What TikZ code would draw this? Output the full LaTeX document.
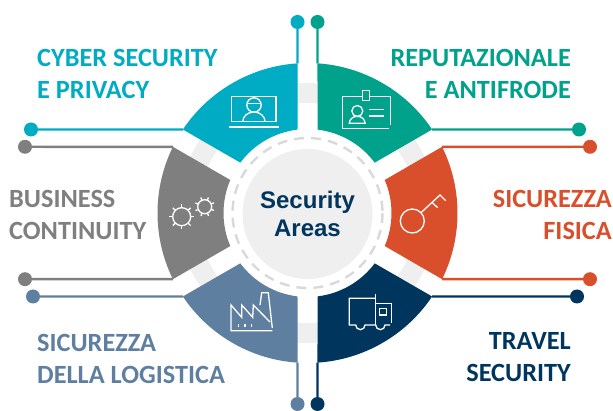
\documentclass[tikz,border=0pt]{standalone}
\usepackage{fontspec}
\setmainfont{Carlito}
\newfontfamily\centerfont{Liberation Sans}
\usepackage{xcolor}
\definecolor{cybercol}{HTML}{00ACC4}
\definecolor{repucol}{HTML}{00A28C}
\definecolor{fisicacol}{HTML}{D94F2B}
\definecolor{travelcol}{HTML}{00365E}
\definecolor{logicol}{HTML}{5F7FA0}
\definecolor{busicol}{HTML}{7F7F7F}
\definecolor{ringcol}{HTML}{EFEFEF}
\definecolor{dashcol}{HTML}{D9D9D9}
\begin{document}
\begin{tikzpicture}[x=1pt, y=1pt, yscale=-1, icon/.style={draw=white, line width=1.3pt}, leader/.style={line width=2.4pt}]
    % Define styles for dots and labels
    \tikzstyle{dot} = [circle, inner sep=0pt, minimum size=14pt]
    \tikzstyle{leftlabel} = [align=left, anchor=west, font=\fontsize{26.3}{32}\selectfont\bfseries, inner sep=0pt]
    \tikzstyle{rightlabel} = [align=right, anchor=east, font=\fontsize{26.3}{32}\selectfont\bfseries, inner sep=0pt]
    \useasboundingbox (0,0) rectangle (613,411);

    % Ring and sectors
    \begin{scope}[shift={(307.5,213)}]
        \draw[ringcol, line width=20pt] (0,0) circle (120);
        \fill[cybercol] (213.82:150) coordinate (cyberleft) arc[start angle=213.82, end angle=266.18, radius=150] coordinate (cybertop) -- (263.16:84) arc[start angle=263.16, end angle=216.84, radius=84] -- cycle;
        \fill[repucol] (273.82:150) coordinate (repubtop) arc[start angle=273.82, end angle=326.18, radius=150] coordinate (repuright) -- (323.16:84) arc[start angle=323.16, end angle=276.84, radius=84] -- cycle;
        \fill[fisicacol] (-26.18:150) coordinate (fisicaup) arc[start angle=-26.18, end angle=26.18, radius=150] coordinate (fisicadown) -- (23.16:84) arc[start angle=23.16, end angle=-23.16, radius=84] -- cycle;
        \fill[travelcol] (33.82:150) coordinate (travelright) arc[start angle=33.82, end angle=86.18, radius=150] coordinate (travelbottom) -- (83.16:84) arc[start angle=83.16, end angle=36.84, radius=84] -- cycle;
        \fill[logicol] (93.82:150) coordinate (logibottom) arc[start angle=93.82, end angle=146.18, radius=150] coordinate (logileft) -- (143.16:84) arc[start angle=143.16, end angle=96.84, radius=84] -- cycle;
        \fill[busicol] (153.82:150) coordinate (busidown) arc[start angle=153.82, end angle=206.18, radius=150] coordinate (busiup) -- (203.16:84) arc[start angle=203.16, end angle=156.84, radius=84] -- cycle;
        \draw[dashcol, line width=2.4pt, dash pattern=on 10pt off 7pt] (0,0) circle (75);
    \end{scope}

    % Center
    \node[circle, fill=ringcol, minimum size=130pt, inner sep=0pt, align=center, text=travelcol, font=\centerfont\fontsize{24}{28}\selectfont\bfseries] (center) at (307.5,214) {Security\\Areas};

    % Nodes placement
    \node[dot, fill=cybercol] (cybertopdot) at (297.5,22) {};
    \node[dot, fill=cybercol] (cyberleftdot) at (31,129.5) {};
    \node[dot, fill=repucol] (reputopdot) at (317.5,22) {};
    \node[dot, fill=repucol] (reporightdot) at (579,129.5) {};
    \node[dot, fill=fisicacol] (fisicaupdot) at (590,146.8) {};
    \node[dot, fill=fisicacol] (fisicadowndot) at (590,279.2) {};
    \node[dot, fill=travelcol] (travelrightdot) at (577,296.5) {};
    \node[dot, fill=travelcol] (travelbottomdot) at (317.5,404) {};
    \node[dot, fill=logicol] (logibottomdot) at (297.5,404) {};
    \node[dot, fill=logicol] (logileftdot) at (33,296.5) {};
    \node[dot, fill=busicol] (busidowndot) at (25,279.2) {};
    \node[dot, fill=busicol] (busiupdot) at (25,146.8) {};

    % Draw edges
    \draw[leader, cybercol] (cybertop) -- (cybertopdot);
    \draw[leader, cybercol] (cyberleft) -- (cyberleftdot);
    \draw[leader, repucol] (repubtop) -- (reputopdot);
    \draw[leader, repucol] (repuright) -- (reporightdot);
    \draw[leader, fisicacol] (fisicaup) -- (fisicaupdot);
    \draw[leader, fisicacol] (fisicadown) -- (fisicadowndot);
    \draw[leader, travelcol] (travelright) -- (travelrightdot);
    \draw[leader, travelcol] (travelbottom) -- (travelbottomdot);
    \draw[leader, logicol] (logibottom) -- (logibottomdot);
    \draw[leader, logicol] (logileft) -- (logileftdot);
    \draw[leader, busicol] (busidown) -- (busidowndot);
    \draw[leader, busicol] (busiup) -- (busiupdot);

    % Labels
    \node[leftlabel, text=cybercol] (cyberlabel) at (37,74) {CYBER SECURITY\\E PRIVACY};
    \node[rightlabel, text=repucol] (repulabel) at (571,74) {REPUTAZIONALE\\E ANTIFRODE};
    \node[leftlabel, text=busicol] (busilabel) at (9,215) {BUSINESS\\CONTINUITY};
    \node[rightlabel, text=fisicacol] (fisicalabel) at (612,215) {SICUREZZA\\FISICA};
    \node[leftlabel, text=logicol] (logilabel) at (37,359) {SICUREZZA\\DELLA LOGISTICA};
    \node[rightlabel, text=travelcol] (travellabel) at (571,357) {TRAVEL\\SECURITY};

    % Laptop icon
    \draw[icon] (231.7,121.7) rectangle (276,96.7);
    \draw[icon, line width=2pt] (229,127.5) -- (278.5,127.5);
    \draw[icon] (254,105) circle (7.2);
    \draw[icon, line width=1pt] (247.5,104) -- (260.5,104);
    \draw[icon] (242.7,121.7) arc[start angle=180, end angle=360, x radius=11.2, y radius=9.7];
    % Badge icon
    \draw[icon] (362.7,96.7) -- (342.3,96.7) -- (342.3,128.3) -- (389,128.3);
    \draw[icon] (369.3,96.7) -- (390.7,96.7) -- (390.7,125);
    \draw[icon] (362.7,90.7) rectangle (369.3,100.7);
    \draw[icon] (357.3,111) circle (5.5);
    \draw[icon] (349.3,123.3) arc[start angle=180, end angle=360, x radius=7.9, y radius=7] -- cycle;
    \draw[icon] (369.3,109.7) -- (384,109.7);
    \draw[icon] (369.3,116) -- (384,116);
    % Gears icon
    \draw[icon] (181.7,216.7) circle (9);
    \draw[icon] (204.7,206.7) circle (7);
    \foreach \ang in {0,45,...,315} {
        \draw[icon] (181.7,216.7) ++(\ang:9) -- ++(\ang:3.5);
        \draw[icon] (204.7,206.7) ++(\ang+22:7) -- ++(\ang+22:3);
    }
    % Key icon
    \draw[icon] (412.3,221) circle (12);
    \draw[icon] (421,212.7) -- (440,195) -- (445.7,200.7);
    \draw[icon] (432.3,202.7) -- (437.7,207.7);
    % Factory icon
    \draw[icon] (272.3,330.7) -- (231,330.7) -- (231,305) -- (241.7,317.3) -- (241.7,305) -- (252.7,317.3) -- (253.3,305) -- (270,322);
    \draw[icon] (260,305) -- (261.7,292.7) -- (268.3,292.7) -- (272.3,328);
    \draw[icon] (238.3,324.5) -- (238.3,327);
    \draw[icon] (245,324.5) -- (245,327);
    \draw[icon] (251.7,324.5) -- (251.7,327);
    % Truck icon
    \draw[icon] (375,298.3) -- (349.3,298.3) -- (349.3,325) -- (355.7,325) arc[start angle=180, end angle=0, radius=4.65] -- (375.7,325) arc[start angle=180, end angle=0, radius=4.65] -- (390,325);
    \draw[icon] (375.7,294) -- (375.7,325);
    \draw[icon] (375.7,303.3) -- (391.7,303.3) -- (391.7,323);
    \draw[icon] (379.3,308.3) rectangle (386.7,315);
\end{tikzpicture}
\end{document}
